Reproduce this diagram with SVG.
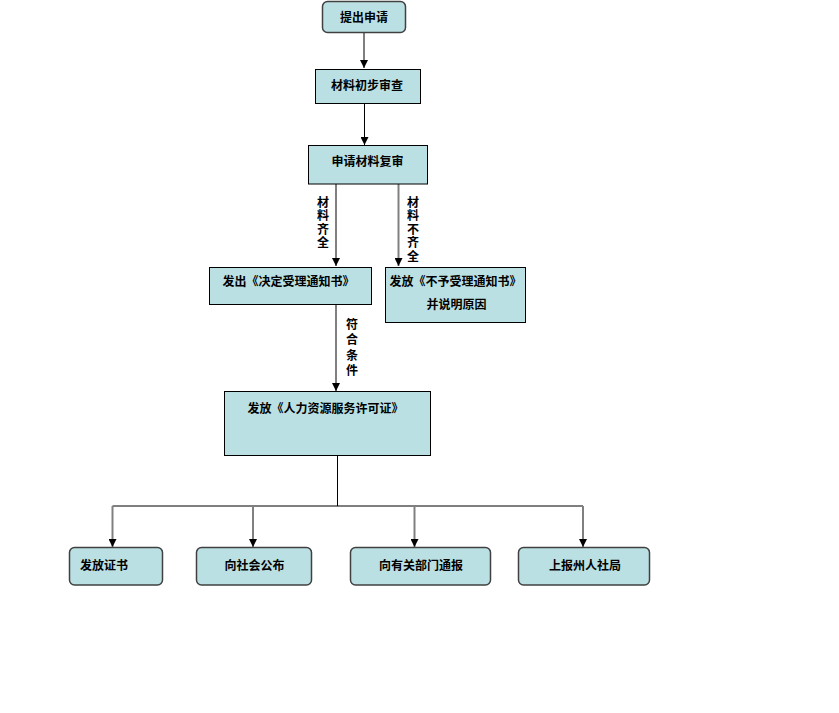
<svg xmlns="http://www.w3.org/2000/svg" width="839" height="713" viewBox="0 0 839 713">
<defs>
<style>
.box{fill:#BBE0E3;stroke:#000;stroke-width:1}
.rbox{fill:#BBE0E3;stroke:#404040;stroke-width:1.5}
.t{font-family:"Noto Sans CJK SC","Noto Sans",sans-serif;font-size:12px;font-weight:bold;fill:#000;text-anchor:middle}
.tl{text-anchor:start}
.v{font-family:"Noto Sans CJK SC","Noto Sans",sans-serif;font-size:12px;font-weight:bold;fill:#000;writing-mode:vertical-rl;text-anchor:start}
.blk{stroke:#000;stroke-width:1;fill:none}
.gry{stroke:#808080;stroke-width:2;fill:none}
</style>
<marker id="ah" markerUnits="userSpaceOnUse" markerWidth="8" markerHeight="8" refX="8" refY="4" orient="auto">
<path d="M0,0 L8,4 L0,8 z" fill="#000"/>
</marker>
</defs>
<rect width="839" height="713" fill="#fff"/>
<g id="connectors">
<line class="blk" x1="364" y1="33" x2="364" y2="68" marker-end="url(#ah)"/>
<line class="blk" x1="364.5" y1="103.5" x2="364.5" y2="145" marker-end="url(#ah)"/>
<line class="gry" x1="336" y1="184" x2="336" y2="266" marker-end="url(#ah)"/>
<line class="gry" x1="398.5" y1="184" x2="398.5" y2="266" marker-end="url(#ah)"/>
<line class="gry" x1="336" y1="304.5" x2="336" y2="391" marker-end="url(#ah)"/>
<polyline class="blk" points="337.5,455.5 337.5,506"/>
<polyline class="blk" points="112.5,506 583,506"/>
<line class="gry" x1="112.5" y1="506" x2="112.5" y2="547" marker-end="url(#ah)"/>
<line class="gry" x1="253" y1="506" x2="253" y2="547" marker-end="url(#ah)"/>
<line class="gry" x1="414.5" y1="506" x2="414.5" y2="547" marker-end="url(#ah)"/>
<line class="gry" x1="583" y1="506" x2="583" y2="547" marker-end="url(#ah)"/>
<text class="v" x="323" y="196" letter-spacing="1.5">材料齐全</text>
<text class="v" x="413" y="196" letter-spacing="1.5">材料不齐全</text>
<text class="v" x="352" y="318" letter-spacing="3.5">符合条件</text>
</g>
<g id="n1"><rect class="rbox" x="322.5" y="1.5" width="83" height="31" rx="5"/><text class="t" x="364" y="21.5">提出申请</text></g>
<g id="n2"><rect class="box" x="315.5" y="69.5" width="105" height="34"/><text class="t" x="367" y="89.5">材料初步审查</text></g>
<g id="n3"><rect class="box" x="308.5" y="145.5" width="119" height="38.5"/><text class="t" x="367.5" y="166">申请材料复审</text></g>
<g id="n4"><rect class="box" x="209.5" y="267.5" width="162" height="37"/><text class="t" x="288.5" y="286">发出《决定受理通知书》</text></g>
<g id="n5"><rect class="box" x="385.5" y="267.5" width="140" height="55"/><text class="t" x="455.5" y="286">发放《不予受理通知书》</text><text class="t" x="456.5" y="308.5">并说明原因</text></g>
<g id="n6"><rect class="box" x="224.5" y="391.5" width="206" height="64"/><text class="t" x="325.5" y="412.5">发放《人力资源服务许可证》</text></g>
<g id="b1"><rect class="rbox" x="69.5" y="547.5" width="93" height="37.5" rx="5"/><text class="t tl" x="80" y="569.5">发放证书</text></g>
<g id="b2"><rect class="rbox" x="196.5" y="547.5" width="115" height="37.5" rx="5"/><text class="t" x="254.5" y="569.5">向社会公布</text></g>
<g id="b3"><rect class="rbox" x="350.5" y="547.5" width="140" height="37.5" rx="5"/><text class="t" x="421" y="569.5">向有关部门通报</text></g>
<g id="b4"><rect class="rbox" x="518.5" y="547.5" width="131" height="37.5" rx="5"/><text class="t" x="585" y="569.5">上报州人社局</text></g>
</svg>
